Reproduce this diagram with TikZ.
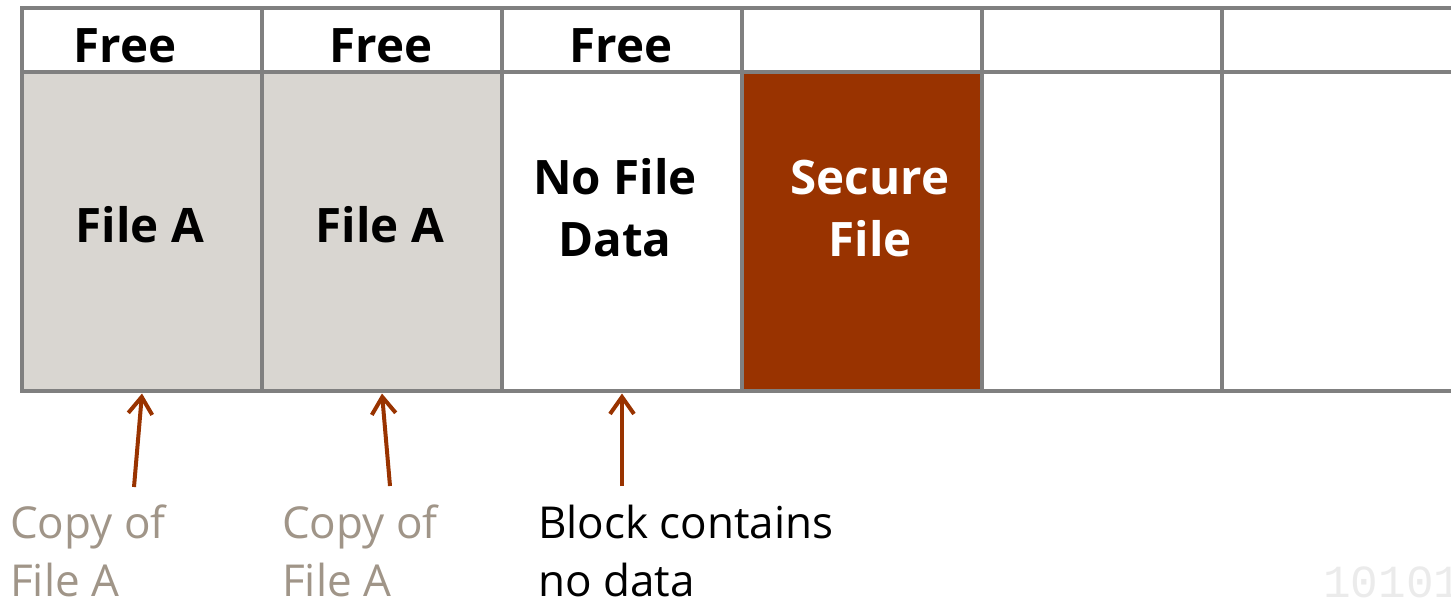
\documentclass[tikz,border=0pt]{standalone}
\usepackage{fontspec}
\setmainfont{Open Sans}
\newfontfamily\monofont{Liberation Mono}
\usetikzlibrary{arrows.meta}
\definecolor{gridgray}{HTML}{808080}
\definecolor{filegray}{HTML}{D9D6D1}
\definecolor{rust}{HTML}{993300}
\definecolor{notegray}{HTML}{A09588}
\definecolor{faint}{HTML}{EBEBEB}
\begin{document}
\begin{tikzpicture}[x=1pt,y=-1pt,
  cell/.style={rectangle, draw=gridgray, line width=4.5pt, minimum width=240pt,
    inner sep=0pt, outer sep=0pt},
  headcell/.style={cell, minimum height=64pt},
  bodycell/.style={cell, minimum height=319pt},
  bold/.style={font=\fontsize{47.5}{62}\selectfont\bfseries, inner sep=0pt, anchor=base},
  note/.style={font=\fontsize{44}{58}\selectfont, inner sep=0pt, anchor=base west, align=left},
  pointer/.style={draw=rust, line width=4pt, -{Straight Barb[length=17pt,width=24pt]}}]
\useasboundingbox (0,0) rectangle (1451,602);
\clip (0,0) rectangle (1451,602);

% block row
\node[bodycell, fill=filegray] (b1) at (142,231.5) {};
\node[bodycell, fill=filegray] (b2) at (382,231.5) {};
\node[bodycell, fill=white]    (b3) at (622,231.5) {};
\node[bodycell, fill=rust]     (b4) at (862,231.5) {};
\node[bodycell, fill=white]    (b5) at (1102,231.5) {};
\node[bodycell, fill=white]    (b6) at (1342,231.5) {};

% header row
\node[headcell] (h1) at (142,40) {};
\node[headcell] (h2) at (382,40) {};
\node[headcell] (h3) at (622,40) {};
\node[headcell] (h4) at (862,40) {};
\node[headcell] (h5) at (1102,40) {};
\node[headcell] (h6) at (1342,40) {};

% header labels
\node[bold] (f1) at (125,63) {Free};
\node[bold] (f2) at (381,63) {Free};
\node[bold] (f3) at (621,63) {Free};

% block contents (base anchor sits on the last line)
\node[bold] (c1) at (140,242) {File A};
\node[bold] (c2) at (380,242) {File A};
\node[bold, align=center] (c3) at (615,256) {No File\\Data};
\node[bold, align=center, text=white] (c4) at (870,256) {Secure\\File};

% notes below the row
\node[note, text=notegray] (n1) at (10,596) {Copy of\\File A};
\node[note, text=notegray] (n2) at (282,596) {Copy of\\File A};
\node[note] (n3) at (538,596) {Block contains\\no data};

% pointers
\coordinate (t1) at (134,487);
\coordinate (t2) at (390,486);
\coordinate (t3) at (622,486);
\draw[pointer] (t1) -- ([yshift=-2.5pt]b1.south);
\draw[pointer] (t2) -- ([yshift=-2.5pt]b2.south);
\draw[pointer] (t3) -- ([yshift=-2.5pt]b3.south);

% faint binary watermark
\node[font=\monofont\fontsize{46}{46}\selectfont, text=faint, inner sep=0pt, anchor=base west] (wm) at (1323,597) {10101};
\end{tikzpicture}
\end{document}
